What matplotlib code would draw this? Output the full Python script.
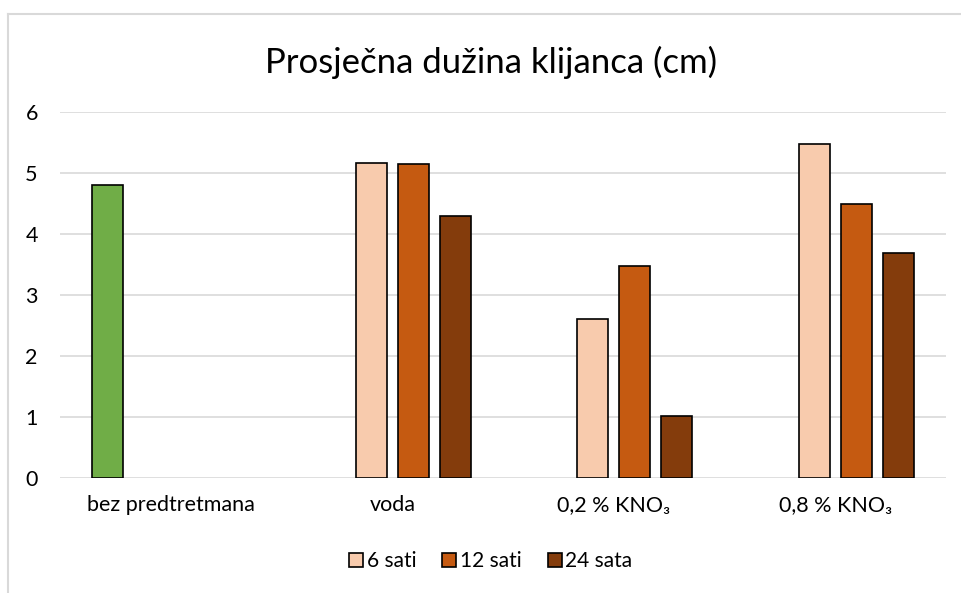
import numpy as np
import matplotlib.pyplot as plt
from matplotlib.lines import Line2D

plt.rcParams['font.family'] = ['Lato', 'Noto Sans', 'DejaVu Sans']

categories = ['bez predtretmana', 'voda', '0,2 % KNO₃', '0,8 % KNO₃']
kontrola = [4.8, 0, 0, 0]
sati_6 = [0, 5.17, 2.61, 5.47]
sati_12 = [0, 5.15, 3.47, 4.49]
sata_24 = [0, 4.29, 1.02, 3.69]

series = [
    (None, kontrola, '#70AD47'),
    ('6 sati', sati_6, '#F8CBAD'),
    ('12 sati', sati_12, '#C55A11'),
    ('24 sata', sata_24, '#843C0C'),
]

fig = plt.figure(figsize=(9.61, 5.93), dpi=100)
ax = fig.add_axes([60/961, 1 - 478/593, 886/961, 366/593])

x = np.arange(len(categories))
pitch = 0.19
width = 0.14
handles = []
for i, (name, vals, col) in enumerate(series):
    pos = x + (i - 1.5) * pitch
    for p, v in zip(pos, vals):
        if v > 0:
            ax.bar(p, v, width, color=col, edgecolor='black', linewidth=1.2, zorder=3)
    if name:
        handles.append(Line2D([], [], marker='s', linestyle='none', markersize=10,
                              markerfacecolor=col, markeredgecolor='black',
                              markeredgewidth=1.2, label=name))

ax.set_xlim(-0.5, 3.5)
ax.set_ylim(0, 6)
ax.set_yticks(range(7))
ax.set_xticks(x)
ax.set_xticklabels(categories)
ax.yaxis.grid(True, color='#D9D9D9', linewidth=1.2, zorder=0)
for s in ax.spines.values():
    s.set_visible(False)
ax.tick_params(axis='both', length=0, labelsize=15.5, colors='black')
ax.tick_params(axis='y', pad=16)
ax.tick_params(axis='x', pad=12)

fig.text(0.511, 1 - 62/593, 'Prosječna dužina klijanca (cm)', ha='center', va='center', fontsize=25)

fig.legend(handles=handles, loc='center', bbox_to_anchor=(0.51, 1 - 561/593), ncol=3,
           frameon=False, fontsize=15, handletextpad=0.1, columnspacing=1.2,
           handlelength=0.8)

# chart border
fig.add_artist(Line2D([8/961, 1], [1 - 14/593, 1 - 14/593], color='#D9D9D9', linewidth=1.5))
fig.add_artist(Line2D([8/961, 8/961], [0, 1 - 14/593], color='#D9D9D9', linewidth=1.5))

fig.savefig('out.png', dpi=100)
